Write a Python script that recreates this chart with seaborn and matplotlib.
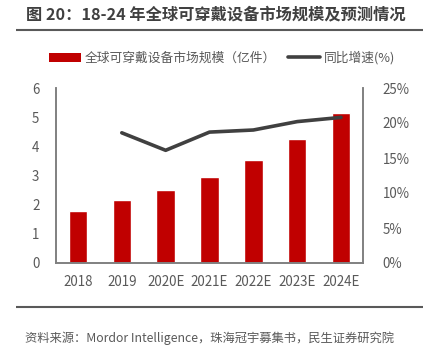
import matplotlib
matplotlib.use("Agg")
import matplotlib.pyplot as plt
import seaborn as sns
import pandas as pd
from matplotlib.patches import Patch
from matplotlib.lines import Line2D

years = ["2018", "2019", "2020E", "2021E", "2022E", "2023E", "2024E"]
shipments = [1.79, 2.16, 2.50, 2.96, 3.53, 4.25, 5.15]
growth = [None, 18.6, 16.1, 18.7, 19.0, 20.2, 20.8]
left_ticks = [0, 1, 2, 3, 4, 5, 6]
right_ticks = [0, 5, 10, 15, 20, 25]

title = "图 20：18-24 年全球可穿戴设备市场规模及预测情况"
bar_label = "全球可穿戴设备市场规模（亿件）"
line_label = "同比增速(%)"
source = "资料来源：Mordor Intelligence，珠海冠宇募集书，民生证券研究院"

sns.set_theme(style="white")
plt.rcParams["font.family"] = ["Noto Sans CJK SC", "DejaVu Sans"]

df = pd.DataFrame({"year": years, "value": shipments})
dfl = pd.DataFrame({"year": years, "growth": growth}).dropna()

fig = plt.figure(figsize=(4.3, 3.45), dpi=100)

# background layer for separator rules (pixel coordinates)
bg = fig.add_axes([0, 0, 1, 1], zorder=-5)
bg.set_xlim(0, 430)
bg.set_ylim(345, 0)
bg.axis("off")
for ypx in (29.5, 306.5):
    bg.plot([16, 423], [ypx, ypx], color="#595959", linewidth=1.5,
            solid_capstyle="butt")

ax = fig.add_axes([56 / 430, 1 - 263 / 345, (363 - 56) / 430, (263 - 88) / 345])

bar_color = "#C00000"
line_color = "#404040"
text_color = "#595959"
spine_color = "#808080"

sns.barplot(data=df, x="year", y="value", color=bar_color, width=0.42,
            saturation=1, ax=ax, order=years)
ax2 = ax.twinx()
xpos = [years.index(y) for y in dfl["year"]]
sns.lineplot(x=xpos, y=dfl["growth"].values, color=line_color, linewidth=2.6,
             ax=ax2)

ax.set_xlim(-0.5, 6.5)
ax.set_ylim(0, 6)
ax.set_yticks(left_ticks)
ax.set_yticklabels([str(t) for t in left_ticks])
ax2.set_ylim(0, 25)
ax2.set_yticks(right_ticks)
ax2.set_yticklabels([f"{t}%" for t in right_ticks])
ax.set_xlabel("")
ax.set_ylabel("")
ax2.set_ylabel("")

for a in (ax, ax2):
    a.tick_params(axis="both", length=0, labelsize=9.6, colors=text_color, pad=5)
    a.spines["top"].set_visible(False)
    for s in ("left", "right", "bottom"):
        a.spines[s].set_color(spine_color)
        a.spines[s].set_linewidth(1.2)
    a.grid(False)
ax.tick_params(axis="x", pad=9)
ax.tick_params(axis="y", pad=12)
ax2.tick_params(axis="y", pad=14)

handles = [Patch(facecolor=bar_color, edgecolor="none"),
           Line2D([0], [0], color=line_color, linewidth=2.6)]
fig.legend(handles, [bar_label, line_label], loc="center",
           bbox_to_anchor=(222 / 430, 1 - 58 / 345), ncol=2, frameon=False,
           fontsize=9.2, handlelength=2.5, handleheight=0.65, handletextpad=0.3,
           columnspacing=0.9, labelcolor=text_color)

fig.text(26 / 430, 1 - 14 / 345, title, fontsize=11.7, fontweight="bold",
         color="#404040", va="center", ha="left")
fig.text(25 / 430, 1 - 338 / 345, source, fontsize=8.85, color=text_color,
         va="center", ha="left")

fig.savefig("out.png", dpi=100)
